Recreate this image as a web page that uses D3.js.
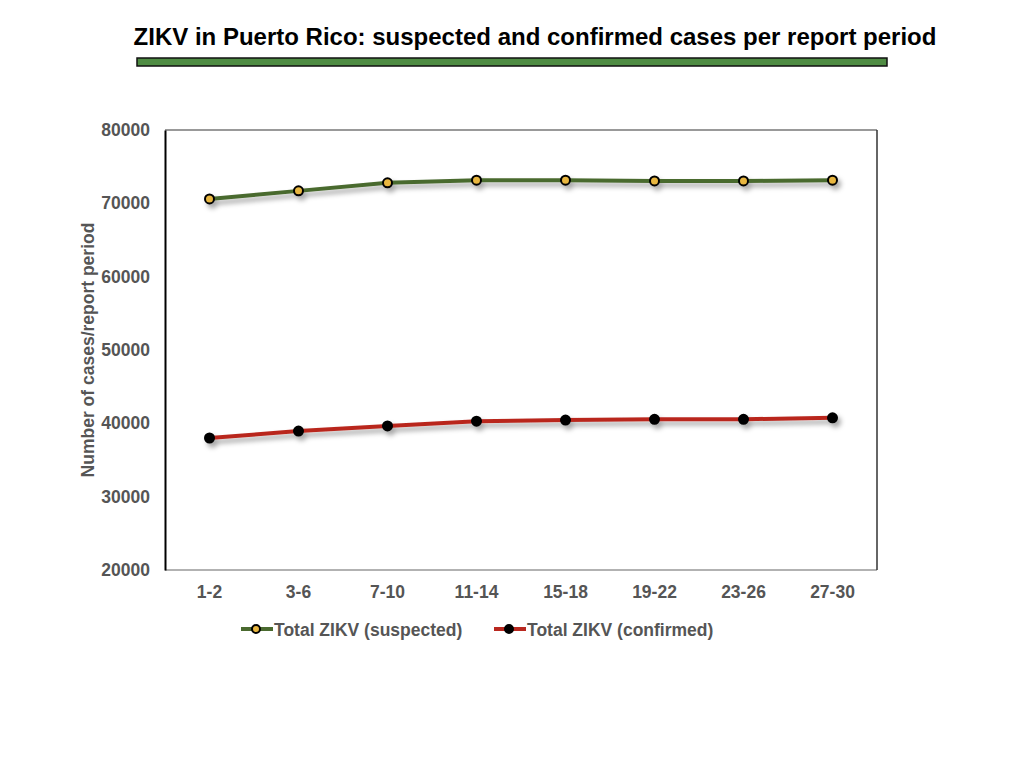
<!DOCTYPE html>
<html>
<head>
<meta charset="utf-8">
<script src="https://cdn.jsdelivr.net/npm/d3@7"></script>
<style>
  body { margin: 0; background: #fff; }
  svg { display: block; font-family: "Liberation Sans", Arial, Helvetica, sans-serif; }
</style>
</head>
<body>
<div id="chart"></div>
<script>
// report periods (weeks) and case counts
const periods = ["1-2", "3-6", "7-10", "11-14", "15-18", "19-22", "23-26", "27-30"];
const suspected = [70600, 71700, 72800, 73150, 73150, 73050, 73050, 73150];
const confirmed = [38000, 38950, 39650, 40300, 40450, 40550, 40550, 40750];
const yTicks = [20000, 30000, 40000, 50000, 60000, 70000, 80000];

const width = 1024;
const height = 768;
const marginTop = 130;
const marginRight = 147;
const marginBottom = 198;
const marginLeft = 165;
const labelSize = 17.5;

const svg = d3.select("#chart").append("svg")
    .attr("width", width)
    .attr("height", height);

// drop shadow used by the lines and markers
const defs = svg.append("defs");
const shadow = defs.append("filter")
    .attr("id", "shadow")
    .attr("x", "-20%").attr("y", "-50%")
    .attr("width", "140%").attr("height", "200%");
shadow.append("feDropShadow")
    .attr("dx", 3).attr("dy", 4)
    .attr("stdDeviation", 2.5)
    .attr("flood-color", "#000")
    .attr("flood-opacity", 0.35);

// title and green bar
svg.append("text")
    .attr("x", 535)
    .attr("y", 45)
    .attr("text-anchor", "middle")
    .attr("font-size", 24)
    .attr("font-weight", "bold")
    .attr("fill", "#000")
    .text("ZIKV in Puerto Rico: suspected and confirmed cases per report period");

svg.append("rect")
    .attr("x", 137).attr("y", 58)
    .attr("width", 750).attr("height", 8)
    .attr("fill", "#4f8c43")
    .attr("stroke", "#111")
    .attr("stroke-width", 1.5);

const x = d3.scaleBand(periods, [marginLeft, width - marginRight]);
const y = d3.scaleLinear([20000, 80000], [height - marginBottom, marginTop]);
const cx = d => x(d) + x.bandwidth() / 2;

// plot frame
const x0 = marginLeft, x1 = width - marginRight;
const y0 = marginTop, y1 = height - marginBottom;
svg.append("line").attr("x1", x0).attr("x2", x1).attr("y1", y0).attr("y2", y0)
    .attr("stroke", "#777").attr("stroke-width", 1.5);
svg.append("line").attr("x1", x0).attr("x2", x1).attr("y1", y1).attr("y2", y1)
    .attr("stroke", "#999").attr("stroke-width", 1.5);
svg.append("line").attr("x1", x1).attr("x2", x1).attr("y1", y0).attr("y2", y1)
    .attr("stroke", "#333").attr("stroke-width", 1.5);

// y axis
svg.append("g")
    .attr("transform", `translate(${marginLeft},0)`)
    .call(d3.axisLeft(y).tickValues(yTicks).tickFormat(d3.format("d")).tickSize(0).tickPadding(15))
    .call(g => g.select(".domain").attr("stroke", "#000").attr("stroke-width", 2))
    .call(g => g.selectAll("text")
        .attr("font-size", labelSize).attr("font-weight", "bold").attr("fill", "#555")
        .attr("font-family", "Liberation Sans, Arial, sans-serif"));

// x axis
svg.append("g")
    .attr("transform", `translate(0,${height - marginBottom})`)
    .call(d3.axisBottom(x).tickSize(0).tickPadding(16))
    .call(g => g.select(".domain").remove())
    .call(g => g.selectAll("text")
        .attr("font-size", labelSize).attr("font-weight", "bold").attr("fill", "#555")
        .attr("font-family", "Liberation Sans, Arial, sans-serif"));

// y axis title
svg.append("text")
    .attr("transform", `translate(94,${(y0 + y1) / 2}) rotate(-90)`)
    .attr("text-anchor", "middle")
    .attr("font-size", labelSize)
    .attr("font-weight", "bold")
    .attr("fill", "#555")
    .text("Number of cases/report period");

const series = [
    { name: "Total ZIKV (suspected)", values: suspected, stroke: "#4a6a2f", fill: "#e8b63f" },
    { name: "Total ZIKV (confirmed)", values: confirmed, stroke: "#b9281f", fill: "#000" }
];

const line = d3.line()
    .x((d, i) => cx(periods[i]))
    .y(d => y(d));

series.forEach(s => {
    const g = svg.append("g").attr("filter", "url(#shadow)");
    g.append("path")
        .attr("fill", "none")
        .attr("stroke", s.stroke)
        .attr("stroke-width", 4)
        .attr("d", line(s.values));
    g.selectAll("circle")
        .data(s.values)
        .join("circle")
        .attr("cx", (d, i) => cx(periods[i]))
        .attr("cy", d => y(d))
        .attr("r", 4.5)
        .attr("fill", s.fill)
        .attr("stroke", "#000")
        .attr("stroke-width", 2);
});

// legend
const legendX = [241, 494];
const legendY = 629;
series.forEach((s, i) => {
    const g = svg.append("g").attr("transform", `translate(${legendX[i]},${legendY})`);
    g.append("line")
        .attr("x1", 0).attr("x2", 32)
        .attr("stroke", s.stroke).attr("stroke-width", 4);
    g.append("circle")
        .attr("cx", 15).attr("r", 4)
        .attr("fill", s.fill)
        .attr("stroke", "#000").attr("stroke-width", 2);
    g.append("text")
        .attr("x", 33).attr("y", 6.5)
        .attr("font-size", labelSize)
        .attr("font-weight", "bold")
        .attr("fill", "#555")
        .text(s.name);
});
</script>
</body>
</html>
